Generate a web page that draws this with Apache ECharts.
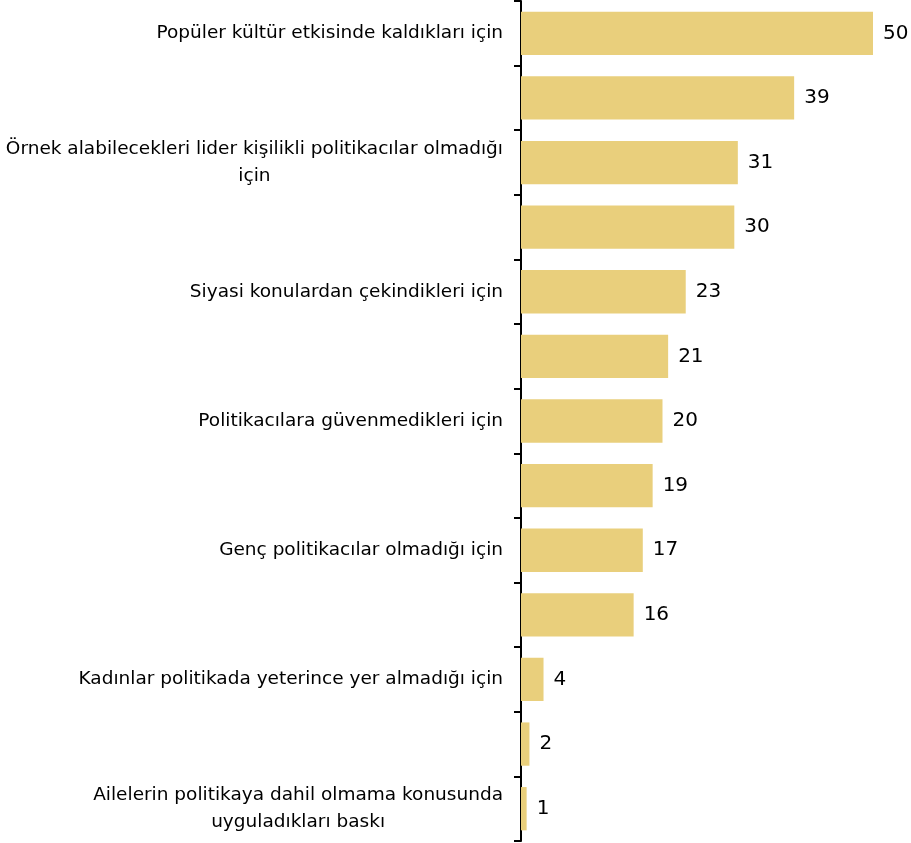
<!DOCTYPE html>
<html><head><meta charset="utf-8">
<script src="https://cdn.jsdelivr.net/npm/echarts@6/dist/echarts.min.js"></script>
<style>html,body{margin:0;padding:0;background:#fff}#c{width:911px;height:843px}</style>
</head><body><div id="c"></div>
<script>
const categories = [
  "Popüler kültür etkisinde kaldıkları için",
  "",
  "Örnek alabilecekleri lider kişilikli politikacılar olmadığı\niçin",
  "",
  "Siyasi konulardan çekindikleri için",
  "",
  "Politikacılara güvenmedikleri için",
  "",
  "Genç politikacılar olmadığı için",
  "",
  "Kadınlar politikada yeterince yer almadığı için",
  "",
  "Ailelerin politikaya dahil olmama konusunda\nuyguladıkları baskı"
];
// bar lengths
const values = [50, 38.8, 30.8, 30.3, 23.4, 20.9, 20.1, 18.7, 17.3, 16.0, 3.2, 1.2, 0.8];
// values as printed beside the bars
const printedLabels = [50, 39, 31, 30, 23, 21, 20, 19, 17, 16, 4, 2, 1];

const chart = echarts.init(document.getElementById('c'), null, {renderer: 'canvas'});
chart.setOption({
  animation: false,
  backgroundColor: '#fff',
  grid: {left: 521, right: 38, top: 1, bottom: 2, containLabel: false},
  xAxis: {type: 'value', min: 0, max: 50, show: false},
  yAxis: {
    type: 'category', inverse: true, data: categories,
    axisLine: {show: true, lineStyle: {color: '#000', width: 2}},
    axisTick: {show: true, interval: 0, length: 7, lineStyle: {color: '#000', width: 2}},
    axisLabel: {
      interval: 1, margin: 18, color: '#000',
      fontFamily: 'DejaVu Sans', fontSize: 18.5,
      formatter: v => v.split('\n').map(l => '{c|' + l + '}').join('\n'),
      rich: {c: {align: 'center', fontFamily: 'DejaVu Sans', fontSize: 18.5, color: '#000', lineHeight: 27}}
    }
  },
  series: [{
    type: 'bar', data: values, barCategoryGap: '33%',
    itemStyle: {color: '#E9CF7C'},
    label: {show: true, position: 'right', distance: 10, color: '#000', fontFamily: 'DejaVu Sans', fontSize: 20,
      formatter: p => String(printedLabels[p.dataIndex])}
  }]
});
</script></body></html>
